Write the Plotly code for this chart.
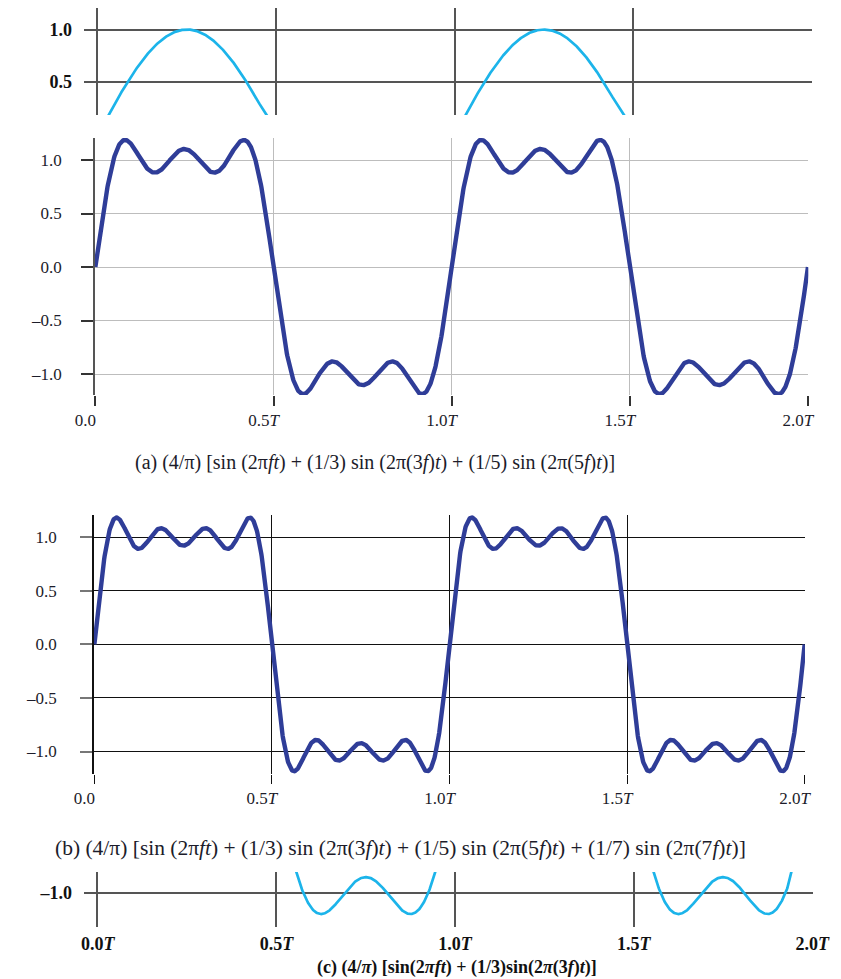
import numpy as np
import plotly.graph_objects as go

x_ticks = [0.0, 0.5, 1.0, 1.5, 2.0]
x_ticktext_plain = ["0.0", "0.5<i>T</i>", "1.0<i>T</i>", "1.5<i>T</i>", "2.0<i>T</i>"]
x_ticktext_bold = ["<b>0.0<i>T</i></b>", "<b>0.5<i>T</i></b>", "<b>1.0<i>T</i></b>", "<b>1.5<i>T</i></b>", "<b>2.0<i>T</i></b>"]
y_ticks = [-1.0, -0.5, 0.0, 0.5, 1.0]
y_ticktext = ["\u20131.0", "\u20130.5", "0.0", "0.5", "1.0"]

harmonics_top = [1]
amps_top = [1.0]
scale_top = 1.0
harmonics_a = [1, 3, 5]
amps_a = [1.0, 1 / 3, 1 / 5]
harmonics_b = [1, 3, 5, 7]
amps_b = [1.0, 1 / 3, 1 / 5, 1 / 7]
harmonics_c = [1, 3]
amps_c = [1.0, 1 / 3]
scale_sq = 4 / np.pi

t = np.linspace(0, 2, 1601)


def series(harm, amps, scale):
    return scale * sum(a * np.sin(2 * np.pi * h * t) for h, a in zip(harm, amps))


W, H = 841, 979
OFF = 8  # page body margin of the html page


def px(x):
    return min(1.0, max(0.0, (x - OFF) / W))


def py(y):
    return min(1.0, max(0.0, 1 - (y - OFF) / H))


DARK = "#2f3d98"
CYAN = "#1cb4ea"
SERIF = "Liberation Serif"

fig = go.Figure()
fig.add_trace(go.Scatter(x=t, y=series(harmonics_top, amps_top, scale_top), mode="lines",
                         line=dict(color=CYAN, width=2.7), xaxis="x", yaxis="y"))
fig.add_trace(go.Scatter(x=t, y=series(harmonics_a, amps_a, scale_sq), mode="lines",
                         line=dict(color=DARK, width=4.4), xaxis="x2", yaxis="y2"))
fig.add_trace(go.Scatter(x=t, y=series(harmonics_b, amps_b, scale_sq), mode="lines",
                         line=dict(color=DARK, width=4.4), xaxis="x3", yaxis="y3"))
fig.add_trace(go.Scatter(x=t, y=series(harmonics_c, amps_c, scale_sq), mode="lines",
                         line=dict(color=CYAN, width=2.7), xaxis="x4", yaxis="y4"))

tickfont = dict(family=SERIF, size=17, color="#1c1c2a")
boldfont = dict(family=SERIF, size=18, color="#111111")

common_x = dict(range=[-0.001, 2.001], tickvals=x_ticks, zeroline=False, showline=False,
                fixedrange=True, automargin=False)
common_y = dict(zeroline=False, fixedrange=True, automargin=False)

fig.update_layout(
    # top panel
    xaxis=dict(domain=[px(97.5), px(812)], anchor="y", showgrid=True, gridcolor="#555555",
               gridwidth=2, showticklabels=False, ticks="", **common_x),
    yaxis=dict(domain=[py(115), py(8)], anchor="x", range=[0.186, 1.205], tickvals=[0.5, 1.0],
               ticktext=["<b>0.5</b>", "<b>1.0</b>"], showgrid=True, gridcolor="#555555", gridwidth=2,
               showline=True, linecolor="#555555", linewidth=2,
               ticks="outside", ticklen=12, tickwidth=2, tickcolor="#555555",
               ticklabelstandoff=8, tickfont=boldfont, **common_y),
    # panel a
    xaxis2=dict(domain=[px(95), px(808.3)], anchor="y2", showgrid=True, gridcolor="#bdbdbd",
                gridwidth=1.4, ticks="outside", ticklen=10, tickwidth=1.6, tickcolor="#333333",
                ticktext=x_ticktext_plain, tickfont=tickfont, ticklabelstandoff=0,
                ticklabelshift=-10, **common_x),
    yaxis2=dict(domain=[py(395), py(138)], anchor="x2", range=[-1.196, 1.206], tickvals=y_ticks,
                ticktext=y_ticktext, showgrid=True, gridcolor="#bdbdbd", gridwidth=1.4,
                showline=True, linecolor="#555555", linewidth=1.6,
                ticks="outside", ticklen=12, tickwidth=1.6, tickcolor="#333333",
                ticklabelstandoff=16, tickfont=tickfont, **common_y),
    # panel b
    xaxis3=dict(domain=[px(94), px(805)], anchor="y3", showgrid=True, gridcolor="#111111",
                gridwidth=1.3, ticks="outside", ticklen=9, tickwidth=1.3, tickcolor="#111111",
                ticktext=x_ticktext_plain, tickfont=tickfont, ticklabelstandoff=0,
                ticklabelshift=-10, **common_x),
    yaxis3=dict(domain=[py(774), py(515)], anchor="x3", range=[-1.21, 1.208], tickvals=y_ticks,
                ticktext=y_ticktext, showgrid=True, gridcolor="#111111", gridwidth=1.3,
                showline=True, linecolor="#111111", linewidth=1.6,
                ticks="outside", ticklen=12, tickwidth=1.6, tickcolor="#777777",
                ticklabelstandoff=20, tickfont=tickfont, **common_y),
    # bottom panel
    xaxis4=dict(domain=[px(97.5), px(812.7)], anchor="y4", showgrid=True, gridcolor="#555555",
                gridwidth=2, ticks="", ticktext=x_ticktext_bold, tickfont=boldfont,
                ticklabelstandoff=4, **common_x),
    yaxis4=dict(domain=[py(927), py(872)], anchor="x4", range=[-1.324, -0.8], tickvals=[-1.0],
                ticktext=["<b>\u20131.0</b>"], showgrid=True, gridcolor="#555555", gridwidth=2,
                showline=True, linecolor="#555555", linewidth=2,
                ticks="outside", ticklen=12, tickwidth=2, tickcolor="#555555",
                ticklabelstandoff=8, tickfont=boldfont, **common_y),
)

cap_a = ("(a) (4/\u03c0) [sin (2\u03c0<i>ft</i>) + (1/3) sin (2\u03c0(3<i>f</i>)<i>t</i>) + "
         "(1/5) sin (2\u03c0(5<i>f</i>)<i>t</i>)]")
cap_b = ("(b) (4/\u03c0) [sin (2\u03c0<i>ft</i>) + (1/3) sin (2\u03c0(3<i>f</i>)<i>t</i>) + "
         "(1/5) sin (2\u03c0(5<i>f</i>)<i>t</i>) + (1/7) sin (2\u03c0(7<i>f</i>)<i>t</i>)]")
cap_c = ("<b>(c) (4/<i>\u03c0</i>) [sin(2<i>\u03c0ft</i>) + (1/3)sin(2<i>\u03c0</i>(3<i>f</i>)<i>t</i>)]</b>")

for txt, cx, cy, size, col in [(cap_a, 375, 462, 20, "#1c1c2a"), (cap_b, 400, 848, 21.5, "#1c1c2a"),
                               (cap_c, 457, 967, 18, "#111111")]:
    fig.add_annotation(text=txt, x=px(cx), y=py(cy), xref="paper", yref="paper",
                       showarrow=False, xanchor="center", yanchor="middle",
                       font=dict(family=SERIF, size=size, color=col))

fig.update_layout(width=W, height=H, margin=dict(l=0, r=0, t=0, b=0),
                  paper_bgcolor="white", plot_bgcolor="white", showlegend=False)

fig.write_html("out.html")
